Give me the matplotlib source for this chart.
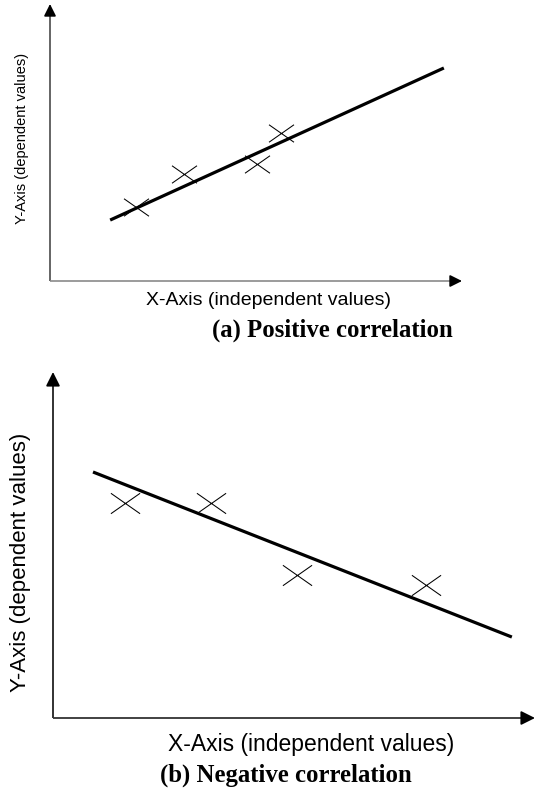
import matplotlib
matplotlib.use("Agg")
import matplotlib.pyplot as plt
from matplotlib.path import Path

# ---------------- data ----------------
# (a) positive correlation
pos_points_x = [2.09, 3.25, 5.02, 5.61]
pos_points_y = [2.67, 3.86, 4.22, 5.34]
pos_line_x = [1.46, 9.56]
pos_line_y = [2.20, 7.69]

# (b) negative correlation
neg_points_x = [1.49, 3.28, 5.06, 7.74]
neg_points_y = [6.21, 6.21, 4.13, 3.84]
neg_line_x = [0.83, 9.52]
neg_line_y = [7.11, 2.34]

x_label = "X-Axis (independent values)"
y_label = "Y-Axis (dependent values)"
caption_a = "(a) Positive correlation"
caption_b = "(b) Negative correlation"

# ---------------- figure ----------------
W, H = 535, 794
DPI = 100
fig = plt.figure(figsize=(W / DPI, H / DPI), dpi=DPI)
fig.patch.set_facecolor("white")

cross = Path([(-1.5, -1.05), (1.5, 1.05), (-1.5, 1.05), (1.5, -1.05)],
             [Path.MOVETO, Path.LINETO, Path.MOVETO, Path.LINETO])


def px_axes(left, top, right, bottom):
    return fig.add_axes([left / W, 1 - bottom / H, (right - left) / W, (bottom - top) / H])


def axis_arrow(ax, start, end, head_from, linecol, lw, ms):
    # shaft
    ax.plot([start[0], head_from[0]], [start[1], head_from[1]], color=linecol, lw=lw,
            transform=ax.transAxes, clip_on=False, solid_capstyle="butt")
    # black head
    ax.annotate("", xy=end, xytext=head_from, xycoords="axes fraction",
                arrowprops=dict(arrowstyle="-|>,head_length=0.4,head_width=0.2",
                                color="black", lw=lw, shrinkA=0, shrinkB=0,
                                mutation_scale=ms), annotation_clip=False)


def draw_panel(ax, px, py, lx, ly, mk_size, ycol, xcol, axlw, ms):
    ax.set_xlim(0, 10)
    ax.set_ylim(0, 10)
    ax.axis("off")
    ax.plot(lx, ly, color="black", lw=2.3, solid_capstyle="butt", zorder=3)
    ax.plot(px, py, linestyle="none", marker=cross, markersize=mk_size,
            markeredgecolor="black", markeredgewidth=0.75, zorder=4)
    axis_arrow(ax, (0, 0), (0, 1), (0, 0.97), ycol, axlw, ms)
    axis_arrow(ax, (0, 0), (1, 0), (0.975, 0), xcol, axlw, ms)


ax1 = px_axes(50, 4, 462, 281)
draw_panel(ax1, pos_points_x, pos_points_y, pos_line_x, pos_line_y,
           18, "#4a4a4a", "#8a8a8a", 1.2, 18)

ax2 = px_axes(53, 372, 535, 718)
draw_panel(ax2, neg_points_x, neg_points_y, neg_line_x, neg_line_y,
           21, "#222222", "#333333", 1.3, 21)

sans = "Liberation Sans"
serif = "Liberation Serif"

fig.text(22 / W, 1 - 138 / H, y_label, rotation=90, ha="center", va="center",
         fontsize=10.5, family=sans)
fig.text(268 / W, 1 - 300 / H, x_label, ha="center", va="center",
         fontsize=14, family=sans)
fig.text(332 / W, 1 - 330 / H, caption_a, ha="center", va="center",
         fontsize=17.8, family=serif, fontweight="bold")

fig.text(21 / W, 1 - 562 / H, y_label, rotation=90, ha="center", va="center",
         fontsize=16, family=sans)
fig.text(311 / W, 1 - 745 / H, x_label, ha="center", va="center",
         fontsize=16.5, family=sans)
fig.text(286 / W, 1 - 775 / H, caption_b, ha="center", va="center",
         fontsize=17.8, family=serif, fontweight="bold")

fig.savefig("out.png", dpi=DPI, facecolor="white")
